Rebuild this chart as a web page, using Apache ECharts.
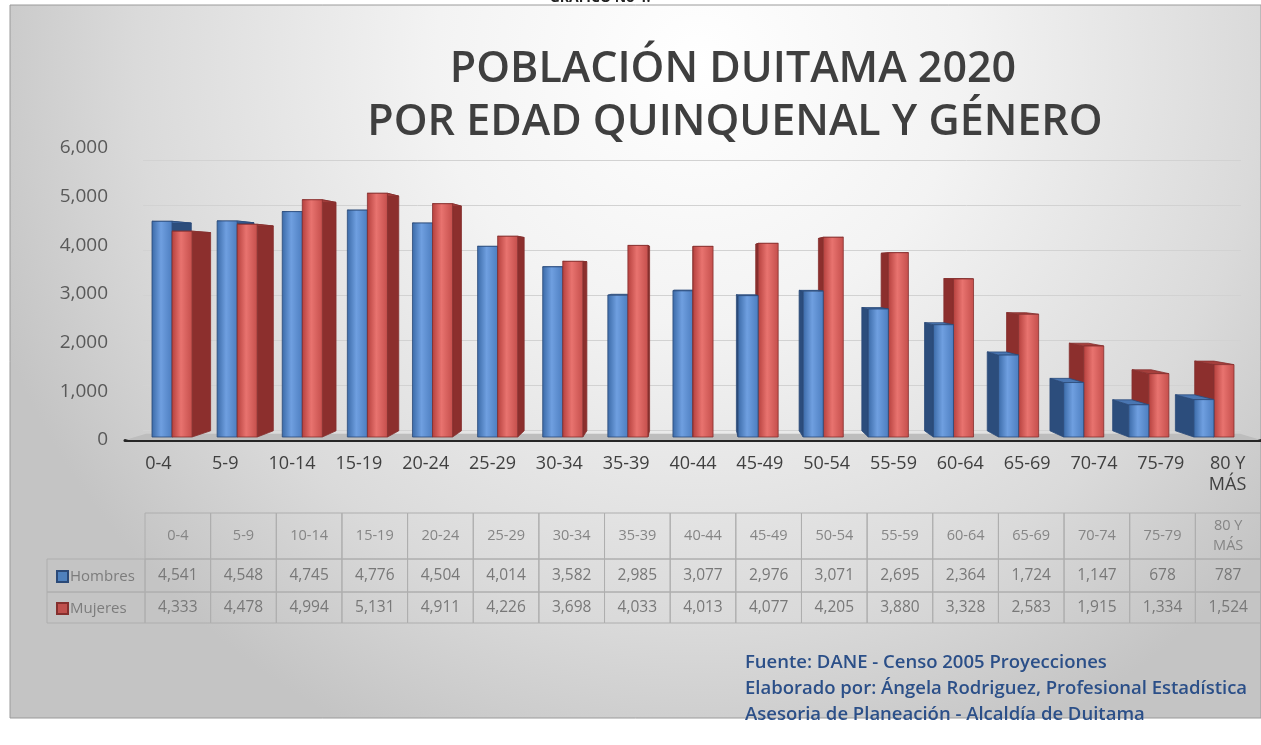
<!DOCTYPE html>
<html>
<head>
<meta charset="utf-8">
<script src="https://cdn.jsdelivr.net/npm/echarts@6/dist/echarts.min.js"></script>
<style>
  html, body { margin: 0; padding: 0; background: #fff; }
  #chart { width: 1261px; height: 745px; }
</style>
</head>
<body>
<div id="chart"></div>
<script>
// age groups (axis and table header)
const ageGroups = ['0-4', '5-9', '10-14', '15-19', '20-24', '25-29', '30-34', '35-39', '40-44',
  '45-49', '50-54', '55-59', '60-64', '65-69', '70-74', '75-79', '80 Y\nMÁS'];
// population by sex
const hombres = [4541, 4548, 4745, 4776, 4504, 4014, 3582, 2985, 3077, 2976, 3071, 2695, 2364, 1724, 1147, 678, 787];
const mujeres = [4333, 4478, 4994, 5131, 4911, 4226, 3698, 4033, 4013, 4077, 4205, 3880, 3328, 2583, 1915, 1334, 1524];
const yTicks = [0, 1000, 2000, 3000, 4000, 5000, 6000];

const FONT = '"Open Sans", "Noto Sans", sans-serif';
const fmt = v => v.toLocaleString('en-US');

// fake 3d: every point is pulled toward a vanishing point to make the back faces
const K = 0.037;
const VP_Y = 270;

const styles = {
  h: { front: ['#3a69a6', '#6f9fe0', '#4c7dbf'], side: '#2c4d7c', top: '#4a76b2', stroke: '#2b4a78' },
  m: { front: ['#b43f3c', '#e8736f', '#c44e4b'], side: '#8c2f2d', top: '#a53f3c', stroke: '#85302e' }
};

function makeBarRenderer(isMale) {
  const st = isMale ? styles.h : styles.m;
  return function (params, api) {
    const i = api.value(0);
    const v = api.value(1);
    const cs = params.coordSys;
    const vpx = cs.x + cs.width / 2;
    const back = p => [p[0] + (vpx - p[0]) * K, p[1] + (VP_Y - p[1]) * K];
    const c = api.coord([i, 0])[0];
    const base = api.coord([i, 0])[1];
    const top = api.coord([i, v])[1];
    const w = api.size([1, 0])[0];
    const bw = w * 0.3;
    const b = c + (vpx - c) * 0.0255;
    const x1 = isMale ? b - bw : b;
    const x2 = isMale ? b : b + bw;
    const mid = (x1 + x2) / 2;
    const edge = mid < vpx ? x2 : x1;
    const z2 = isMale ? (mid < vpx ? 1 : 3) : 2;

    const side = [[edge, top], back([edge, top]), back([edge, base]), [edge, base]];
    const topFace = [[x1, top], [x2, top], back([x2, top]), back([x1, top])];
    return {
      type: 'group',
      children: [
        { type: 'polygon', z2: z2, shape: { points: side },
          style: { fill: st.side, stroke: st.stroke, lineWidth: 0.8 } },
        { type: 'polygon', z2: z2, shape: { points: topFace },
          style: { fill: st.top, stroke: st.stroke, lineWidth: 0.8 } },
        { type: 'rect', z2: z2, shape: { x: x1, y: top, width: x2 - x1, height: base - top },
          style: {
            fill: new echarts.graphic.LinearGradient(0, 0, 1, 0, [
              { offset: 0, color: st.front[0] },
              { offset: 0.45, color: st.front[1] },
              { offset: 1, color: st.front[2] }
            ]),
            stroke: st.stroke, lineWidth: 0.8
          } }
      ]
    };
  };
}

function renderFloor(params, api) {
  const cs = params.coordSys;
  const vpx = cs.x + cs.width / 2;
  const back = p => [p[0] + (vpx - p[0]) * K, p[1] + (VP_Y - p[1]) * K];
  const y = api.coord([0, 0])[1] + 3;
  const fl = [cs.x, y], fr = [cs.x + cs.width, y];
  return {
    type: 'polygon',
    shape: { points: [fl, fr, back(fr), back(fl)] },
    style: { fill: '#bdbdbd' }
  };
}

// data table under the chart: header row, Hombres row, Mujeres row
const rowEdges = [0, 46, 79, 110];
function renderTable(params, api) {
  const i = api.value(0);
  const cs = params.coordSys;
  const c = api.coord([i, 0])[0];
  const w = api.size([1, 0])[0];
  const x0 = c - w / 2;
  const texts = [ageGroups[i], fmt(hombres[i]), fmt(mujeres[i])];
  const children = [];
  for (let r = 0; r < 3; r++) {
    const y0 = cs.y + rowEdges[r];
    const h = rowEdges[r + 1] - rowEdges[r];
    children.push({ type: 'rect', shape: { x: x0, y: y0, width: w, height: h },
      style: { fill: 'transparent', stroke: '#aeaeae', lineWidth: 1 } });
    children.push({ type: 'text', x: c, y: y0 + h / 2,
      style: { text: texts[r], textAlign: 'center', textVerticalAlign: 'middle',
        font: (r === 0 ? '14.5px ' : '15.5px ') + FONT, fill: r === 0 ? '#858585' : '#787878', lineHeight: 20 } });
  }
  return { type: 'group', children: children };
}

const chart = echarts.init(document.getElementById('chart'));

const option = {
  backgroundColor: '#ffffff',
  animation: false,
  graphic: [
    { type: 'rect', z: -10, shape: { x: 10, y: 5, width: 1251, height: 713 },
      style: {
        fill: { type: 'radial', x: 0.55, y: 0.08, r: 1.05, colorStops: [
          { offset: 0, color: '#ffffff' },
          { offset: 0.35, color: '#f3f3f3' },
          { offset: 0.75, color: '#dadada' },
          { offset: 1, color: '#c4c4c4' }
        ] },
        stroke: '#9a9a9a', lineWidth: 1
      } },
    { type: 'text', z: -5, x: 600, y: -9,
      style: { text: 'GRÁFICO No 4.', textAlign: 'center', font: 'bold 14px ' + FONT, fill: '#222' } },
    { type: 'text', x: 733, y: 70,
      style: { text: 'POBLACIÓN DUITAMA 2020', textAlign: 'center', textVerticalAlign: 'middle',
        font: '600 43px ' + FONT, fill: '#3f3f3f' } },
    { type: 'text', x: 735, y: 123,
      style: { text: 'POR EDAD QUINQUENAL Y GÉNERO', textAlign: 'center', textVerticalAlign: 'middle',
        font: '600 43px ' + FONT, fill: '#3f3f3f' } },
    // legend cells of the table
    { type: 'rect', shape: { x: 47, y: 559, width: 98, height: 33 },
      style: { fill: 'transparent', stroke: '#aeaeae', lineWidth: 1 } },
    { type: 'rect', shape: { x: 47, y: 592, width: 98, height: 31 },
      style: { fill: 'transparent', stroke: '#aeaeae', lineWidth: 1 } },
    { type: 'text', x: 745, y: 650,
      style: { text: 'Fuente: DANE - Censo 2005 Proyecciones\nElaborado por: Ángela Rodriguez, Profesional Estadística\nAsesoria de Planeación - Alcaldía de Duitama',
        font: '600 18.5px ' + FONT, fill: '#2b4f88', lineHeight: 26 } }
  ],
  legend: {
    data: ['Hombres', 'Mujeres'],
    orient: 'vertical',
    left: 51,
    top: 564,
    itemGap: 17,
    itemWidth: 11,
    itemHeight: 11,
    icon: 'rect',
    selectedMode: false,
    textStyle: { color: '#7c7c7c', fontSize: 15, fontFamily: FONT, padding: [0, 0, 0, -3] }
  },
  grid: [
    { left: 125, right: 0, top: 148, bottom: 305 },   // axis labels and axis line
    { left: 125, right: 0, top: 152, bottom: 308 },   // bars
    { left: 143, right: 20, top: 160, bottom: 315 },  // back wall grid lines
    { left: 145, right: 0, top: 513, bottom: 122 }    // table
  ],
  xAxis: [
    { gridIndex: 0, type: 'category', data: ageGroups,
      axisLine: { lineStyle: { color: '#262626', width: 3 } },
      axisTick: { show: false },
      axisLabel: { color: '#404040', fontSize: 18, fontFamily: FONT, margin: 13, lineHeight: 21, interval: 0 } },
    { gridIndex: 1, type: 'category', data: ageGroups, show: false },
    { gridIndex: 2, type: 'value', show: false },
    { gridIndex: 3, type: 'category', data: ageGroups, show: false }
  ],
  yAxis: [
    { gridIndex: 0, type: 'value', min: yTicks[0], max: yTicks[yTicks.length - 1], interval: 1000,
      axisLine: { show: false }, axisTick: { show: false }, splitLine: { show: false },
      axisLabel: { color: '#595959', fontSize: 19, fontFamily: FONT, margin: 17, formatter: v => fmt(v) } },
    { gridIndex: 1, type: 'value', min: yTicks[0], max: yTicks[yTicks.length - 1], show: false },
    { gridIndex: 2, type: 'value', min: yTicks[0], max: yTicks[yTicks.length - 1], interval: 1000,
      axisLine: { show: false }, axisTick: { show: false }, axisLabel: { show: false },
      splitLine: { lineStyle: { color: '#d2d2d2', width: 1 } } },
    { gridIndex: 3, type: 'value', min: 0, max: 1, show: false }
  ],
  series: [
    { type: 'custom', name: 'floor', xAxisIndex: 1, yAxisIndex: 1, z: 1,
      renderItem: renderFloor, data: [[0, 0]], silent: true },
    { type: 'custom', name: 'Hombres', xAxisIndex: 1, yAxisIndex: 1, z: 3,
      itemStyle: { color: '#4f81bd', borderColor: '#2b4a78', borderWidth: 1 },
      renderItem: makeBarRenderer(true),
      data: hombres.map((v, i) => [i, v]) },
    { type: 'custom', name: 'Mujeres', xAxisIndex: 1, yAxisIndex: 1, z: 3,
      itemStyle: { color: '#c0504d', borderColor: '#85302e', borderWidth: 1 },
      renderItem: makeBarRenderer(false),
      data: mujeres.map((v, i) => [i, v]) },
    { type: 'custom', name: 'table', xAxisIndex: 3, yAxisIndex: 3, silent: true,
      renderItem: renderTable, data: ageGroups.map((g, i) => [i, 0]) }
  ]
};

chart.setOption(option);
</script>
</body>
</html>
